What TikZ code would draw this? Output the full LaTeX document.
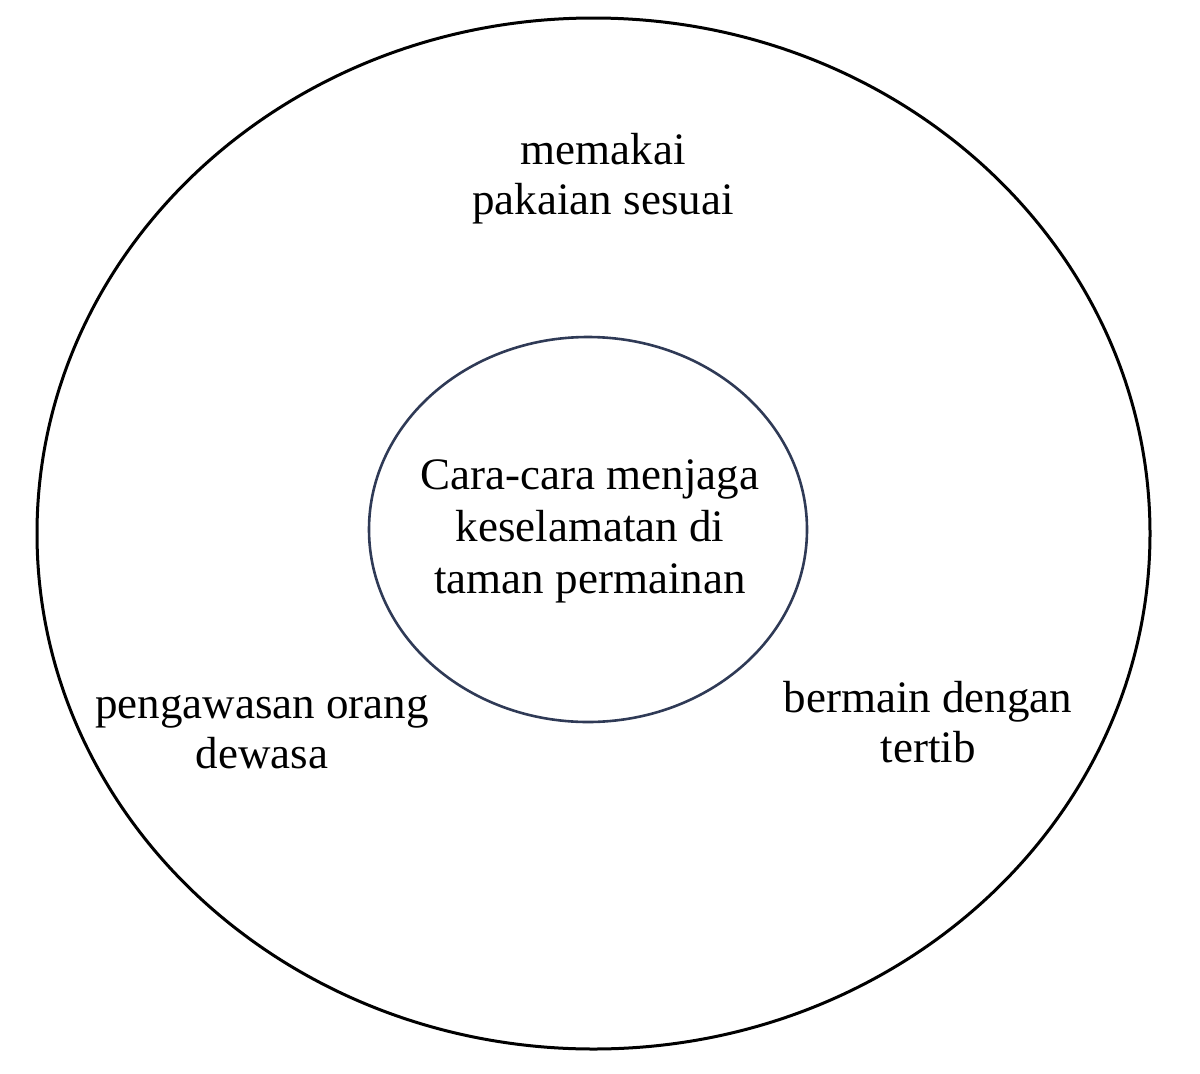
\documentclass[tikz,border=0pt]{standalone}
\usepackage{fontspec}
\setmainfont{Liberation Serif}
\usepackage{tikz}
\usetikzlibrary{shapes.geometric}

\definecolor{coreblue}{RGB}{47,58,86}

\begin{document}
\begin{tikzpicture}[x=1pt,y=-1pt,
    ring/.style={ellipse,draw=black,line width=3pt,inner sep=0pt},
    core/.style={ellipse,draw=coreblue,line width=2.6pt,inner sep=0pt},
    idea/.style={align=center,inner sep=0pt,font=\fontsize{45}{50}\selectfont}]
   \useasboundingbox (0,0) rectangle (1200,1074);
   \node[ring, minimum width=1113pt, minimum height=1031pt] (outer) at (593.5,533.5) {};
   \node[core, minimum width=438pt, minimum height=385pt] (hub) at (588,529.5) {};
   \node[idea, font=\fontsize{45}{52}\selectfont] (topic) at (590,531.5)
        {Cara-cara menjaga\\keselamatan di\\taman permainan};
   \node[idea] (wear) at (603,178.5) {memakai\\pakaian sesuai};
   \node[idea] (adult) at (262,732) {pengawasan orang\\dewasa};
   \node[idea] (order) at (928,722) {bermain dengan\\tertib};
\end{tikzpicture}
\end{document}
